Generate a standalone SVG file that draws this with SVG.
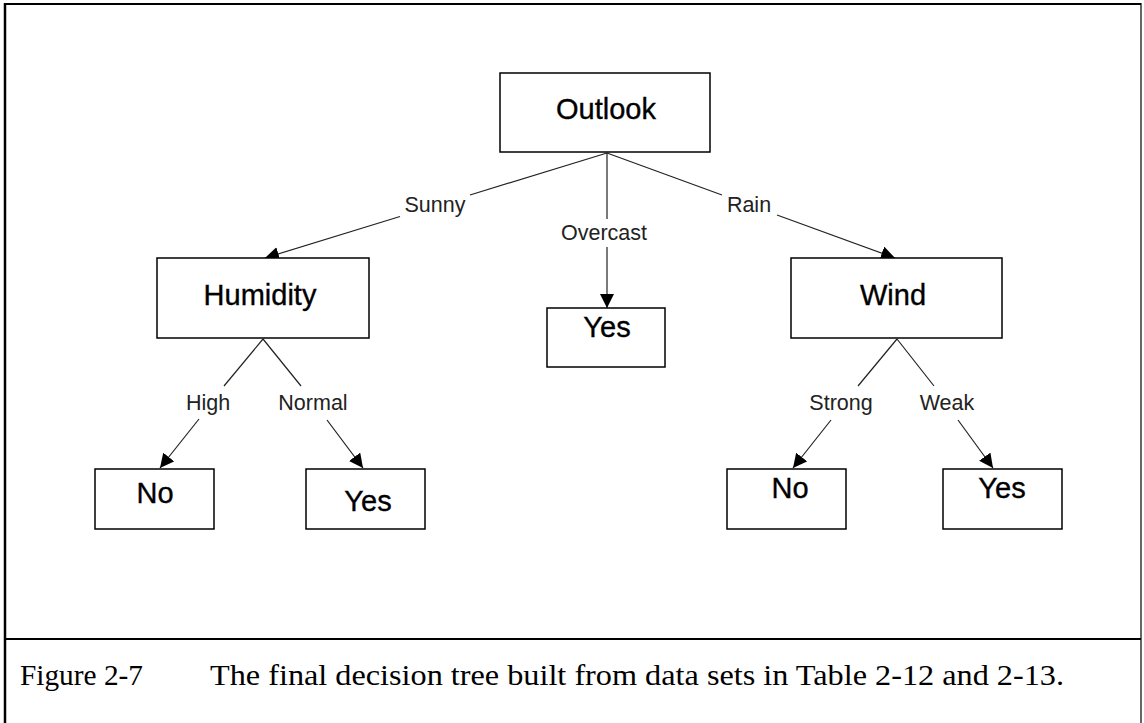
<svg xmlns="http://www.w3.org/2000/svg" width="1144" height="723" viewBox="0 0 1144 723">
  <defs>
    <marker id="arrow" markerUnits="userSpaceOnUse" markerWidth="14" markerHeight="14" refX="14" refY="7" orient="auto">
      <path d="M0,0 L14,7 L0,14 z" fill="#000"/>
    </marker>
    <style>
      .box { fill: #fff; stroke: #000; stroke-width: 1.5; }
      .node-text { font-family: "Liberation Sans", Arial, sans-serif; font-size: 29px; fill: #000; stroke: #000; stroke-width: 0.35; text-anchor: middle; }
      .edge { stroke: #222; stroke-width: 1.2; fill: none; }
      .edge-label { font-family: "Liberation Sans", Arial, sans-serif; font-size: 21.5px; fill: #222; text-anchor: middle; }
      .frame { stroke: #000; fill: none; }
      .caption { font-family: "Liberation Serif", "Times New Roman", serif; font-size: 30px; fill: #000; }
    </style>
  </defs>

  <rect width="1144" height="723" fill="#fff"/>

  <!-- figure frame -->
  <g id="frame">
    <line class="frame" x1="5" y1="4" x2="1141" y2="4" stroke-width="2"/>
    <line class="frame" x1="5" y1="3" x2="5" y2="723" stroke-width="2.5"/>
    <line class="frame" x1="1141" y1="3" x2="1141" y2="723" stroke-width="1.2"/>
    <line class="frame" x1="5" y1="639" x2="1141" y2="639" stroke-width="2"/>
  </g>

  <!-- connectors -->
  <g id="connectors">
    <line class="edge" x1="607" y1="153" x2="470" y2="195"/>
    <line class="edge" x1="400" y1="216.5" x2="265" y2="258" marker-end="url(#arrow)"/>
    <text class="edge-label" x="435" y="212">Sunny</text>

    <line class="edge" x1="607" y1="153" x2="607" y2="219"/>
    <line class="edge" x1="607" y1="247" x2="607" y2="308" marker-end="url(#arrow)"/>
    <text class="edge-label" x="604" y="240">Overcast</text>

    <line class="edge" x1="607" y1="153" x2="722" y2="195"/>
    <line class="edge" x1="777" y1="215" x2="895" y2="258" marker-end="url(#arrow)"/>
    <text class="edge-label" x="749" y="212">Rain</text>

    <line class="edge" x1="263" y1="339" x2="224" y2="386"/>
    <line class="edge" x1="199" y1="419" x2="160" y2="468" marker-end="url(#arrow)"/>
    <text class="edge-label" x="208" y="410">High</text>

    <line class="edge" x1="263" y1="339" x2="301" y2="386"/>
    <line class="edge" x1="327" y1="420" x2="363" y2="468" marker-end="url(#arrow)"/>
    <text class="edge-label" x="313" y="410">Normal</text>

    <line class="edge" x1="897" y1="339" x2="858" y2="386"/>
    <line class="edge" x1="831" y1="420" x2="793" y2="468" marker-end="url(#arrow)"/>
    <text class="edge-label" x="841" y="410">Strong</text>

    <line class="edge" x1="897" y1="339" x2="934" y2="386"/>
    <line class="edge" x1="958" y1="420" x2="993" y2="468" marker-end="url(#arrow)"/>
    <text class="edge-label" x="947" y="410">Weak</text>
  </g>

  <!-- nodes -->
  <g id="node-outlook">
    <rect class="box" x="500" y="73" width="210" height="79"/>
    <text class="node-text" x="606" y="119">Outlook</text>
  </g>
  <g id="node-humidity">
    <rect class="box" x="157" y="258" width="212" height="80"/>
    <text class="node-text" x="260" y="305">Humidity</text>
  </g>
  <g id="node-overcast-yes">
    <rect class="box" x="547" y="308" width="118" height="59"/>
    <text class="node-text" x="607" y="337">Yes</text>
  </g>
  <g id="node-wind">
    <rect class="box" x="791" y="258" width="211" height="80"/>
    <text class="node-text" x="893" y="305">Wind</text>
  </g>
  <g id="node-high-no">
    <rect class="box" x="95" y="469" width="119" height="60"/>
    <text class="node-text" x="155" y="503">No</text>
  </g>
  <g id="node-normal-yes">
    <rect class="box" x="306" y="469" width="119" height="60"/>
    <text class="node-text" x="368" y="511">Yes</text>
  </g>
  <g id="node-strong-no">
    <rect class="box" x="727" y="469" width="119" height="60"/>
    <text class="node-text" x="790" y="498">No</text>
  </g>
  <g id="node-weak-yes">
    <rect class="box" x="943" y="469" width="119" height="60"/>
    <text class="node-text" x="1002" y="498">Yes</text>
  </g>

  <!-- caption -->
  <g id="caption">
    <text class="caption" x="20" y="685" textLength="123" lengthAdjust="spacingAndGlyphs">Figure 2-7</text>
    <text class="caption" x="210" y="685" textLength="854" lengthAdjust="spacingAndGlyphs">The final decision tree built from data sets in Table 2-12 and 2-13.</text>
  </g>
</svg>
